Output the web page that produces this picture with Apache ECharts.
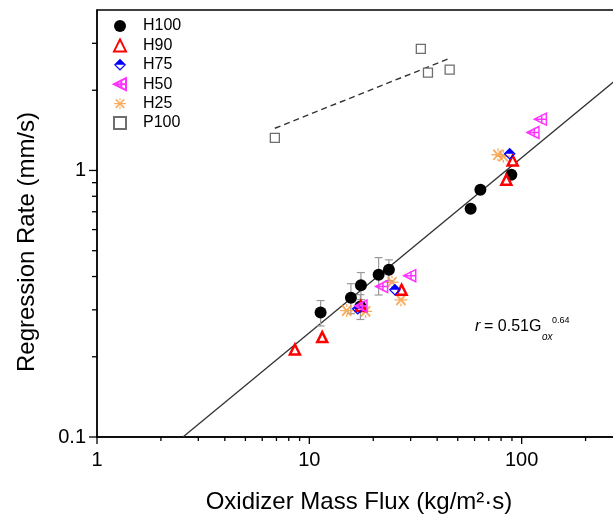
<!DOCTYPE html>
<html>
<head>
<meta charset="utf-8">
<script src="https://cdn.jsdelivr.net/npm/echarts@6/dist/echarts.min.js"></script>
<style>html,body{margin:0;padding:0;background:#fff}#c{width:613px;height:523px}</style>
</head>
<body>
<div id="c"></div>
<script>
// ---- data ----
const xH100 = [11.3, 15.7, 17.5, 17.4, 21.2, 23.7, 57.5, 63.9, 89.4];
const yH100 = [0.293, 0.333, 0.371, 0.309, 0.406, 0.424, 0.718, 0.846, 0.963];
const errH100 = [0.032, 0.043, 0.043, 0.033, 0.065, 0.038, 0, 0, 0];
const xH90 = [8.55, 11.5, 17.5, 27.2, 84.7, 90.7];
const yH90 = [0.213, 0.237, 0.31, 0.357, 0.923, 1.09];
const xH75 = [16.9, 25.3, 87.8];
const yH75 = [0.303, 0.357, 1.155];
const xH50 = [17.5, 21.9, 29.7, 113, 122.5];
const yH50 = [0.31, 0.367, 0.403, 1.388, 1.558];
const xH25 = [15.0, 18.4, 24.5, 27.0, 77.3, 82];
const yH25 = [0.298, 0.296, 0.381, 0.327, 1.145, 1.13];
const xP100 = [6.88, 33.5, 36.2, 45.8];
const yP100 = [1.326, 2.86, 2.33, 2.39];
const xP100Line = [6.88, 45.0];
const yP100Line = [1.44, 2.62];
const xFit = [2.54, 300];
const yFit = [0.1, 2.3];
const xMinorTicks = [2,3,4,5,6,7,8,9,20,30,40,50,60,70,80,90,200,300,400,500,600,700,800,900];
const yMinorTicks = [0.2,0.3,0.4,0.5,0.6,0.7,0.8,0.9,2,3];
const xMajorTicks = [1, 10, 100];
const yMajorTicks = [0.1, 1];
const xTickLabels = ['1', '10', '100'];
const yTickLabels = ['0.1', '1'];

const zip = (a, b) => a.map((v, i) => [v, b[i]]);
const FONT = "'Liberation Sans', Arial, sans-serif";

const chart = echarts.init(document.getElementById('c'), null, {renderer: 'canvas'});

const H75path = 'path://M10,0 L20,10 L0,10 Z M0,10 L10,20 L20,10 L17.2,10 L10,17 L2.8,10 Z';
const H50path = 'path://M1,10 L19,1 L19,19 Z M1,10 L19,10 M12,3 L12,17';
const H25path = 'path://M2,4 L4,2 L18,16 L16,18 Z M16,2 L18,4 L4,18 L2,16 Z M0,9 L20,9 L20,11 L0,11 Z M9,1 L11,1 L11,5 L9,5 Z M9,15 L11,15 L11,19 L9,19 Z';

const labelFor = (vals, labels) => v => {
  const i = vals.findIndex(t => Math.abs(t - v) < 1e-9 * Math.max(1, t));
  return i >= 0 ? labels[i] : '';
};

const option = {
  animation: false,
  textStyle: {fontFamily: FONT},
  grid: {left: 97, top: 10, right: -121, bottom: 86, outerBoundsMode: 'none', containLabel: false,
         show: true, borderColor: '#000', borderWidth: 1.3, backgroundColor: 'transparent'},
  xAxis: {
    type: 'log', logBase: 10, min: 1, max: 1000,
    axisLine: {show: true, lineStyle: {color: '#000', width: 1.5}},
    axisTick: {show: false},
    axisLabel: {fontSize: 20, color: '#000', margin: 13, fontFamily: FONT, formatter: labelFor(xMajorTicks, xTickLabels)},
    splitLine: {show: false}
  },
  yAxis: {
    type: 'log', logBase: 10, min: 0.1, max: 4,
    axisLine: {show: true, lineStyle: {color: '#000', width: 1.5}},
    axisTick: {show: false},
    axisLabel: {fontSize: 20, color: '#000', margin: 11, fontFamily: FONT, formatter: labelFor(yMajorTicks, yTickLabels)},
    splitLine: {show: false}
  },
  legend: {
    orient: 'vertical', left: 108, top: 13, itemWidth: 12, itemHeight: 12, itemGap: 3.4,
    textStyle: {fontSize: 16, color: '#000', fontFamily: FONT, padding: [0, 0, 0, 12]},
    data: ['H100', 'H90', 'H75', 'H50', 'H25', 'P100']
  },
  series: [
    {name: 'fit', type: 'line', data: zip(xFit, yFit), symbol: 'none', silent: true,
     lineStyle: {color: '#333', width: 1.3}, z: 1},
    {name: 'P100fit', type: 'line', data: zip(xP100Line, yP100Line), symbol: 'none', silent: true,
     lineStyle: {color: '#333', width: 1.4, type: [6, 4]}, z: 1},
    {name: 'err', type: 'custom', silent: true, z: 2,
     data: xH100.map((x, i) => [x, yH100[i] - errH100[i], yH100[i] + errH100[i], errH100[i]]).filter(d => d[3] > 0),
     renderItem: (params, api) => {
       const lo = api.coord([api.value(0), api.value(1)]);
       const hi = api.coord([api.value(0), api.value(2)]);
       const st = {stroke: '#9a9a9a', lineWidth: 1.2};
       return {type: 'group', children: [
         {type: 'line', shape: {x1: lo[0], y1: lo[1], x2: hi[0], y2: hi[1]}, style: st},
         {type: 'line', shape: {x1: lo[0]-4, y1: lo[1], x2: lo[0]+4, y2: lo[1]}, style: st},
         {type: 'line', shape: {x1: hi[0]-4, y1: hi[1], x2: hi[0]+4, y2: hi[1]}, style: st}
       ]};
     }},
    {name: 'ticks', type: 'custom', silent: true, z: 5, clip: false,
     data: xMinorTicks.map(v => [v, 0.1, 0, 4]).concat(xMajorTicks.map(v => [v, 0.1, 0, 7]))
       .concat(yMinorTicks.map(v => [1, v, 1, 5])).concat(yMajorTicks.map(v => [1, v, 1, 8])),
     renderItem: (params, api) => {
       const p = api.coord([api.value(0), api.value(1)]);
       const len = api.value(3);
       const st = {stroke: '#000', lineWidth: 1.3};
       if (api.value(2) === 0) return {type: 'line', shape: {x1: p[0], y1: p[1], x2: p[0], y2: p[1] + len}, style: st};
       return {type: 'line', shape: {x1: p[0], y1: p[1], x2: p[0] - len, y2: p[1]}, style: st};
     }},
    {name: 'P100', type: 'scatter', data: zip(xP100, yP100), symbol: 'rect', symbolSize: 9,
     itemStyle: {color: '#fff', borderColor: '#6e6e6e', borderWidth: 1.3, opacity: 1}, z: 3},
    {name: 'H100', type: 'scatter', data: zip(xH100, yH100), symbol: 'circle', symbolSize: 12,
     itemStyle: {color: '#000', opacity: 1}, z: 3},
    {name: 'H25', type: 'scatter', data: zip(xH25, yH25), symbol: H25path, symbolSize: 13,
     itemStyle: {color: 'rgba(247,160,70,0.85)', opacity: 1}, z: 4},
    {name: 'H90', type: 'scatter', data: zip(xH90, yH90), symbol: 'triangle', symbolSize: 10,
     itemStyle: {color: '#fff', borderColor: '#ff0000', borderWidth: 2.5, opacity: 1}, z: 4},
    {name: 'H75', type: 'scatter', data: zip(xH75, yH75), symbol: H75path, symbolSize: 12,
     itemStyle: {color: '#0000ff', opacity: 1}, z: 4},
    {name: 'H50', type: 'scatter', data: zip(xH50, yH50), symbol: H50path, symbolSize: 12,
     itemStyle: {color: 'rgba(255,255,255,0)', borderColor: '#ff33ff', borderWidth: 1.5, opacity: 1}, z: 4}
  ],
  graphic: [
    {type: 'text', x: 27, y: 242, rotation: Math.PI / 2,
     style: {text: 'Regression Rate (mm/s)', font: "24px 'Liberation Sans', Arial, sans-serif", fill: '#000', align: 'center', verticalAlign: 'middle'}},
    {type: 'text', x: 359, y: 502,
     style: {text: 'Oxidizer Mass Flux (kg/m²·s)', font: "24px 'Liberation Sans', Arial, sans-serif", fill: '#000', align: 'center', verticalAlign: 'middle'}},
    {type: 'text', x: 475, y: 327,
     style: {text: 'r', font: "italic 16px 'Liberation Sans', Arial, sans-serif", fill: '#000', align: 'left', verticalAlign: 'middle'}},
    {type: 'text', x: 484, y: 327,
     style: {text: '= 0.51G', font: "16px 'Liberation Sans', Arial, sans-serif", fill: '#000', align: 'left', verticalAlign: 'middle'}},
    {type: 'text', x: 542, y: 337,
     style: {text: 'ox', font: "italic 10px 'Liberation Sans', Arial, sans-serif", fill: '#000', align: 'left', verticalAlign: 'middle'}},
    {type: 'text', x: 552, y: 321,
     style: {text: '0.64', font: "9px 'Liberation Sans', Arial, sans-serif", fill: '#000', align: 'left', verticalAlign: 'middle'}}
  ]
};
chart.setOption(option);
</script>
</body>
</html>
